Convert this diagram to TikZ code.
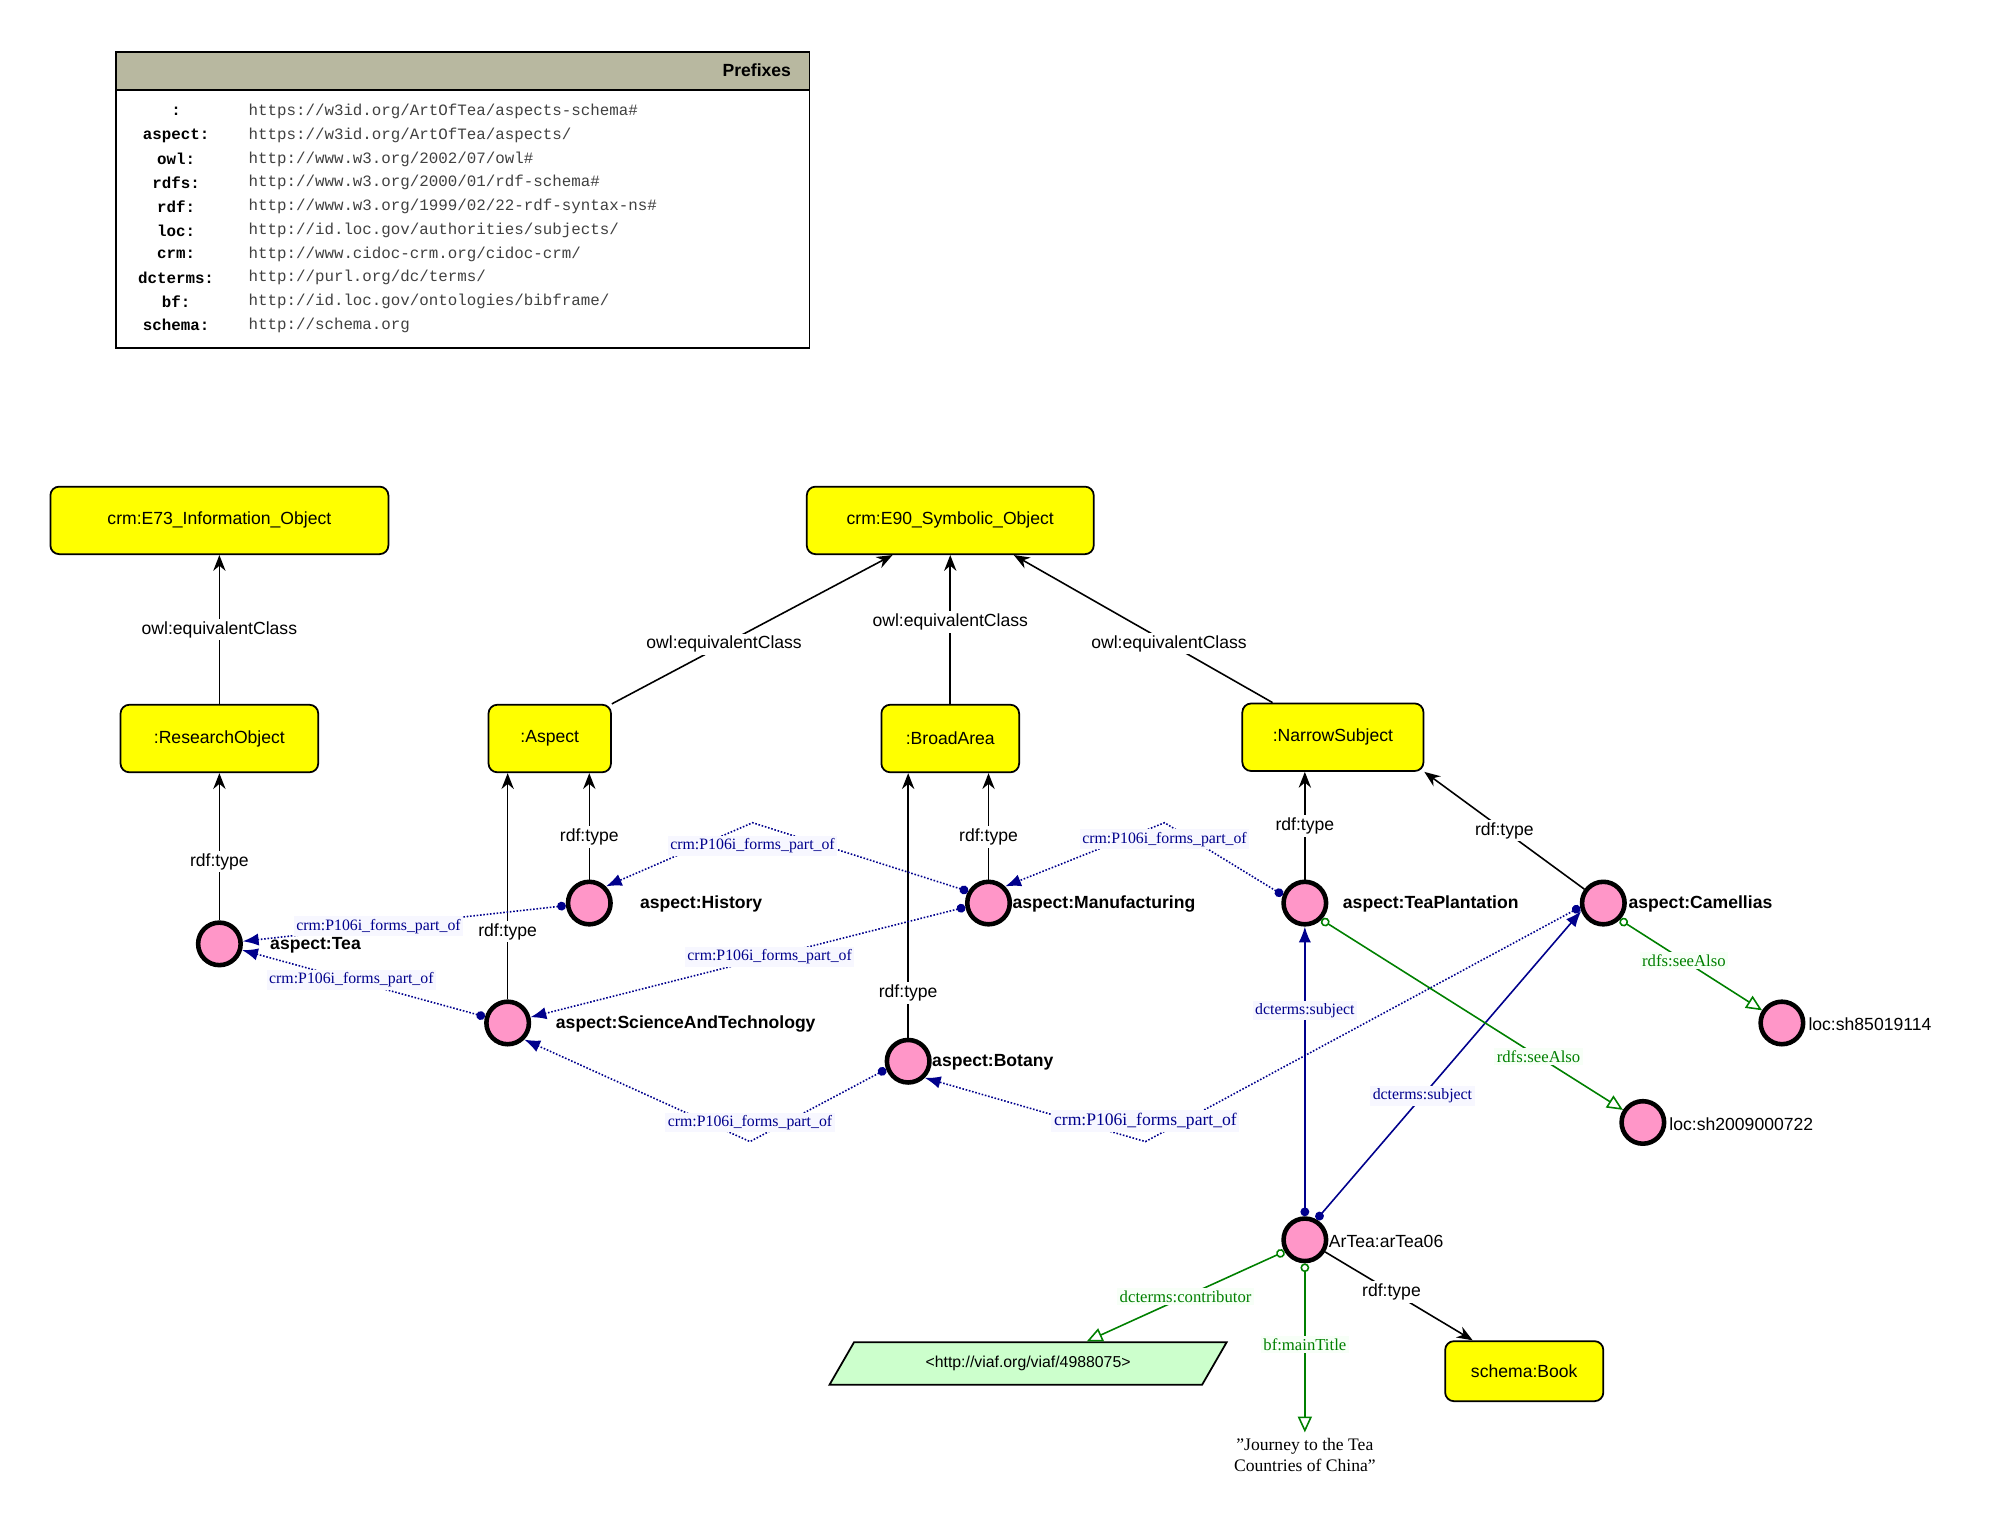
\documentclass[tikz,border=0pt]{standalone}
\usepackage{fontspec}
\setmainfont{Liberation Serif}
\setsansfont{Liberation Sans}
\setmonofont{Liberation Mono}
\usetikzlibrary{arrows.meta, shapes.geometric, calc}
\definecolor{clsyellow}{RGB}{255,255,0}
\definecolor{instpink}{RGB}{255,150,200}
\definecolor{hdrgray}{RGB}{184,184,160}
\definecolor{litgreen}{RGB}{204,255,204}
\definecolor{relnavy}{RGB}{0,0,140}
\definecolor{relgreen}{RGB}{0,128,0}
\tikzstyle{cls} = [rectangle, rounded corners=5pt, draw=black, line width=1pt, fill=clsyellow, minimum height=1.35cm, font=\sffamily\fontsize{10}{12}\selectfont]
\tikzstyle{inst} = [circle, draw=black, line width=2.6pt, fill=instpink, minimum size=0.85cm, inner sep=0pt]
\tikzstyle{iname} = [font=\sffamily\bfseries\fontsize{10}{12}\selectfont, anchor=west]
\tikzstyle{typearrow} = [line width=0.9pt, -{Stealth[length=9pt,width=7pt]}]
\tikzstyle{typelabel} = [fill=white, inner sep=1.5pt, font=\sffamily\fontsize{10}{12}\selectfont]
\tikzstyle{partof} = [relnavy, line width=0.9pt, densely dotted, {Circle[length=5pt]}-{Latex[length=9pt,width=7pt]}]
\tikzstyle{subj} = [relnavy, line width=0.9pt, {Circle[length=5pt]}-{Latex[length=9pt,width=7pt]}]
\tikzstyle{seealso} = [relgreen, line width=0.9pt, {Circle[open,length=5pt]}-{Triangle[open,length=9pt,width=8pt]}]
\tikzstyle{navylabel} = [relnavy, fill=blue!3, inner sep=1.5pt, font=\fontsize{9}{11}\selectfont]
\tikzstyle{greenlabel} = [relgreen, fill=green!3, inner sep=1.5pt, font=\fontsize{9.5}{11}\selectfont]
\begin{document}
\begin{tikzpicture}[x=0.0255cm, y=-0.0255cm]
    \useasboundingbox (0,0) rectangle (1568,1200);
    % Prefixes table
    \node (pfxbody) [draw, line width=1pt, minimum width=544*0.0255cm, minimum height=232*0.0255cm, anchor=north west] at (90,40) {};
    \node (pfxhead) [draw, line width=1pt, fill=hdrgray, minimum width=544*0.0255cm, minimum height=30*0.0255cm, anchor=north west] at (90,40) {};
    \node (pfxtitle) [anchor=east, font=\sffamily\bfseries\fontsize{10}{12}\selectfont] at (625,55) {Prefixes};
    \foreach \pfx/\uri [count=\i] in {{:}/{https://w3id.org/ArtOfTea/aspects-schema\#},
        {aspect:}/{https://w3id.org/ArtOfTea/aspects/},
        {owl:}/{http://www.w3.org/2002/07/owl\#},
        {rdfs:}/{http://www.w3.org/2000/01/rdf-schema\#},
        {rdf:}/{http://www.w3.org/1999/02/22-rdf-syntax-ns\#},
        {loc:}/{http://id.loc.gov/authorities/subjects/},
        {crm:}/{http://www.cidoc-crm.org/cidoc-crm/},
        {dcterms:}/{http://purl.org/dc/terms/},
        {bf:}/{http://id.loc.gov/ontologies/bibframe/},
        {schema:}/{http://schema.org}}{
        \node (pfx\i) [font=\ttfamily\bfseries\fontsize{9}{11}\selectfont] at (138,{69+18.6*\i}) {\pfx};
        \node (uri\i) [anchor=west, font=\ttfamily\fontsize{9}{11}\selectfont, text=black!75] at (190,{69+18.6*\i}) {\uri};
    }

    % classes
    \node (e73) [cls, minimum width=265*0.0255cm] at (172,408) {crm:E73\_Information\_Object};
    \node (e90) [cls, minimum width=225*0.0255cm] at (745,408) {crm:E90\_Symbolic\_Object};
    \node (research) [cls, minimum width=155*0.0255cm] at (172,579) {:ResearchObject};
    \node (aspect) [cls, minimum width=96*0.0255cm] at (431,579) {:Aspect};
    \node (broad) [cls, minimum width=108*0.0255cm] at (745,579) {:BroadArea};
    \node (narrow) [cls, minimum width=142*0.0255cm] at (1045,578) {:NarrowSubject};
    \node (book) [cls, minimum width=124*0.0255cm, minimum height=1.2cm] at (1195,1075) {schema:Book};

    % instances
    \node (tea) [inst] at (172,740) {};
    \node (history) [inst] at (462,708) {};
    \node (manuf) [inst] at (775,708) {};
    \node (plant) [inst] at (1023,708) {};
    \node (camel) [inst] at (1257,708) {};
    \node (scitech) [inst] at (398,802) {};
    \node (botany) [inst] at (712,832) {};
    \node (loca) [inst] at (1397,802) {};
    \node (locb) [inst] at (1288,880) {};
    \node (artea) [inst] at (1023,972) {};

    \node (teaname) [iname] at (207,741) {aspect:Tea};
    \node (historyname) [iname] at (497,709) {aspect:History};
    \node (manufname) [iname] at (789,709) {aspect:Manufacturing};
    \node (plantname) [iname] at (1048,709) {aspect:TeaPlantation};
    \node (camelname) [iname] at (1272,709) {aspect:Camellias};
    \node (scitechname) [iname] at (431,803) {aspect:ScienceAndTechnology};
    \node (botanyname) [iname] at (726,833) {aspect:Botany};
    \node (locaname) [iname, font=\sffamily\fontsize{10}{12}\selectfont] at (1413,803) {loc:sh85019114};
    \node (locbname) [iname, font=\sffamily\fontsize{10}{12}\selectfont] at (1304,881) {loc:sh2009000722};
    \node (arteaname) [iname, font=\sffamily\fontsize{10}{12}\selectfont] at (1037,973) {ArTea:arTea06};

    % literals
    \node (viaf) [trapezium, trapezium left angle=60, trapezium right angle=120, draw, line width=1pt, fill=litgreen, minimum width=218*0.0255cm, minimum height=0.85cm, font=\sffamily\fontsize{9}{11}\selectfont] at (806,1069) {<http://viaf.org/viaf/4988075>};
    \node (title) [align=center, font=\fontsize{10}{12}\selectfont] at (1023,1141) {"Journey to the Tea\\Countries of China"};

    % equivalent classes
    \draw [typearrow] (research) -- node[typelabel] {owl:equivalentClass} (e73);
    \draw [typearrow] (aspect.north east) ++(0,0) coordinate (aspectne) -- node[typelabel, pos=0.4] {owl:equivalentClass} ($(e90.south west)!0.3!(e90.south east)$);
    \draw [typearrow] (broad) -- node[typelabel, pos=0.55] {owl:equivalentClass} (e90);
    \draw [typearrow] ($(narrow.north west)!0.17!(narrow.north east)$) -- node[typelabel, pos=0.4] {owl:equivalentClass} ($(e90.south west)!0.72!(e90.south east)$);

    % rdf:type
    \draw [typearrow] (tea) -- node[typelabel, pos=0.4] {rdf:type} (research);
    \draw [typearrow] (history) -- node[typelabel, pos=0.4] {rdf:type} (history |- aspect.south);
    \draw [typearrow] (scitech) -- node[typelabel, pos=0.3] {rdf:type} (scitech |- aspect.south);
    \draw [typearrow] (manuf) -- node[typelabel, pos=0.4] {rdf:type} (manuf |- broad.south);
    \draw [typearrow] (botany) -- node[typelabel, pos=0.17] {rdf:type} (botany |- broad.south);
    \draw [typearrow] (plant) -- node[typelabel, pos=0.5] {rdf:type} (plant |- narrow.south);
    \draw [typearrow] (camel) -- node[typelabel, pos=0.5] {rdf:type} (narrow.south east);
    \draw [typearrow] (artea) -- node[typelabel, pos=0.45] {rdf:type} (book);

    % forms part of
    \coordinate (bendmh) at (590,645);
    \coordinate (bendpm) at (913,645);
    \coordinate (bendbs) at (588,895);
    \coordinate (bendcb) at (898,895);
    \draw [partof] (history) -- node[navylabel, pos=0.58] {crm:P106i\_forms\_part\_of} (tea);
    \draw [partof] (scitech) -- node[navylabel, pos=0.55] {crm:P106i\_forms\_part\_of} (tea);
    \draw [partof] (manuf.150) -- (bendmh) node[navylabel, pos=1, yshift=-18*0.0255cm] {crm:P106i\_forms\_part\_of} -- (history.north east);
    \draw [partof] (manuf.190) -- node[navylabel, pos=0.45] {crm:P106i\_forms\_part\_of} (scitech);
    \draw [partof] (plant.160) -- (bendpm) node[navylabel, pos=1, yshift=-13*0.0255cm] {crm:P106i\_forms\_part\_of} -- (manuf.north east);
    \draw [partof] (botany.200) -- (bendbs) node[navylabel, pos=1, yshift=15*0.0255cm] {crm:P106i\_forms\_part\_of} -- (scitech.south east);
    \draw [partof] (camel.190) -- (bendcb) node[navylabel, pos=1, yshift=16*0.0255cm, font=\fontsize{10}{12}\selectfont] {crm:P106i\_forms\_part\_of} -- (botany.south east);

    % subjects
    \draw [subj] (artea.north) -- node[navylabel, pos=0.71] {dcterms:subject} (plant);
    \draw [subj] (artea.60) -- node[navylabel, pos=0.4] {dcterms:subject} (camel.200);

    % see also
    \draw [seealso] (plant.south east) -- node[greenlabel, pos=0.72] {rdfs:seeAlso} (locb);
    \draw [seealso] (camel.south east) -- node[greenlabel, pos=0.45] {rdfs:seeAlso} (loca);
    \draw [seealso] (artea.210) -- node[greenlabel, pos=0.5] {dcterms:contributor} ($(viaf.north)+(46,0)$);
    \draw [seealso] (artea.south) -- node[greenlabel, pos=0.48] {bf:mainTitle} (title.north);
\end{tikzpicture}
\end{document}
